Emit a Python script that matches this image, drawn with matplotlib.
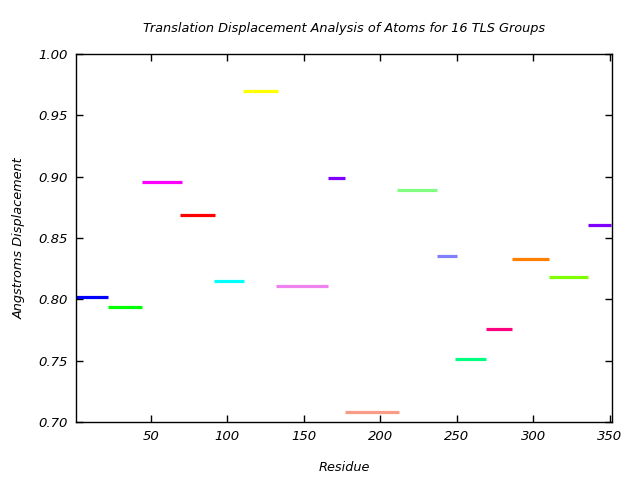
import matplotlib
matplotlib.use('Agg')
import matplotlib.pyplot as plt
from matplotlib.ticker import MultipleLocator, FormatStrFormatter

# TLS group segments: residue start, residue end, displacement
res_start = [1, 22, 44, 69, 91, 110, 132, 166, 177, 211, 237, 249, 269, 286, 310, 336]
res_end = [22, 44, 70, 92, 111, 133, 166, 177, 212, 237, 250, 269, 286, 310, 336, 351]
displacement = [0.802, 0.794, 0.896, 0.869, 0.815, 0.970, 0.811, 0.899,
                 0.708, 0.889, 0.835, 0.751, 0.776, 0.833, 0.818, 0.861]
colors = ['#0000ff', '#00ff00', '#ff00ff', '#ff0000', '#00ffff', '#ffff00', '#ee82ee', '#8000ff',
          '#f89c88', '#80ff80', '#8080ff', '#00ff80', '#ff0080', '#ff8000', '#80ff00', '#8000ff']

plt.rcParams.update({
    "font.family": "DejaVu Sans",
    "font.style": "italic",
    "font.size": 9.3,
})

fig = plt.figure(figsize=(6.4, 4.8), dpi=100)
ax = fig.add_axes([0.11875, 0.1208, 0.8375, 0.7667])

for x0, x1, y, c in zip(res_start, res_end, displacement, colors):
    ax.plot([x0, x1], [y, y], color=c, linewidth=2.3, solid_capstyle='butt')

ax.set_xlim(1, 351.5)
ax.set_ylim(0.70, 1.00)
ax.xaxis.set_major_locator(MultipleLocator(50))
ax.yaxis.set_major_locator(MultipleLocator(0.05))
ax.yaxis.set_major_formatter(FormatStrFormatter('%.2f'))
ax.tick_params(direction='in', top=True, right=True, length=5, width=1, labelsize=9.5, pad=6)
for spine in ax.spines.values():
    spine.set_linewidth(1)

ax.set_title('Translation Displacement Analysis of Atoms for 16 TLS Groups', fontsize=9.3, style='italic', pad=16)
ax.set_xlabel('Residue', fontsize=9.3, style='italic', labelpad=13)
ax.set_ylabel('Angstroms Displacement', fontsize=9.3, style='italic', labelpad=9)

fig.savefig('out.png', dpi=100)
